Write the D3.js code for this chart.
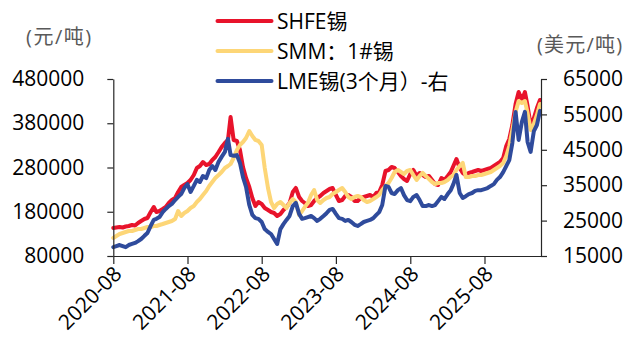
<!DOCTYPE html>
<html>
<head>
<meta charset="utf-8">
<script src="https://cdn.jsdelivr.net/npm/d3@7/dist/d3.min.js"></script>
<style>
  html, body { margin: 0; padding: 0; background: #fff; }
  svg { display: block; font-family: "Open Sans", "Noto Sans CJK SC", sans-serif; }
</style>
</head>
<body>
<svg id="chart" width="630" height="345"></svg>
<script>
// Semi-monthly observation dates
const dates = ("2020-08-01 2020-08-16 2020-09-01 2020-09-16 2020-10-01 2020-10-16 2020-11-01 2020-11-16 2020-12-01 2020-12-16 " +
  "2021-01-01 2021-01-16 2021-02-01 2021-02-16 2021-03-01 2021-03-16 2021-04-01 2021-04-16 2021-05-01 2021-05-16 2021-06-01 2021-06-16 " +
  "2021-07-01 2021-07-16 2021-08-01 2021-08-16 2021-09-01 2021-09-16 2021-10-01 2021-10-16 2021-11-01 2021-11-16 2021-12-01 2021-12-16 " +
  "2022-01-01 2022-01-16 2022-02-01 2022-02-16 2022-03-01 2022-03-16 2022-04-01 2022-04-16 2022-05-01 2022-05-16 2022-06-01 2022-06-16 " +
  "2022-07-01 2022-07-16 2022-08-01 2022-08-16 2022-09-01 2022-09-16 2022-10-01 2022-10-16 2022-11-01 2022-11-16 2022-12-01 2022-12-16 " +
  "2023-01-01 2023-01-16 2023-02-01 2023-02-16 2023-03-01 2023-03-16 2023-04-01 2023-04-16 2023-05-01 2023-05-16 2023-06-01 2023-06-16 " +
  "2023-07-01 2023-07-16 2023-08-01 2023-08-16 2023-09-01 2023-09-16 2023-10-01 2023-10-16 2023-11-01 2023-11-16 2023-12-01 2023-12-16 " +
  "2024-01-01 2024-01-16 2024-02-01 2024-02-16 2024-03-01 2024-03-16 2024-04-01 2024-04-16 2024-05-01 2024-05-16 2024-06-01 2024-06-16 " +
  "2024-07-01 2024-07-16 2024-08-01 2024-08-16 2024-09-01 2024-09-16 2024-10-01 2024-10-16 2024-11-01 2024-11-16 2024-12-01 2024-12-16 " +
  "2025-01-01 2025-01-16 2025-02-01 2025-02-16 2025-03-01 2025-03-16 2025-04-01 2025-04-16 2025-05-01 2025-05-16 2025-06-01 2025-06-16 " +
  "2025-07-01 2025-07-16 2025-08-01 2025-08-16 2025-09-01 2025-09-16 2025-10-01 2025-10-16 2025-11-01 2025-11-16 2025-12-01 2025-12-16 " +
  "2026-01-01 2026-01-16 2026-02-01 2026-02-16 2026-03-01 2026-03-16 2026-04-01 2026-04-16 2026-05-01").split(" ");

// SHFE tin, yuan/ton (left axis)
const shfe = [
  143300, 144400, 145500, 144400, 146700, 147800, 150100, 148900, 154600, 159100,
  163600, 165900, 179400, 190700, 179400, 181700, 186200, 190700, 199800, 206600, 211100, 224600,
  235900, 240500, 245000, 251800, 263100, 278900, 283400, 292400, 285700, 287900, 297000, 303700,
  315000, 326300, 335400, 342200, 394100, 342200, 339900, 319600, 281100, 256300, 235900, 211100,
  193000, 202000, 197500, 188500, 184000, 179400, 177200, 170400, 174900, 184000, 190700, 199800,
  224600, 233700, 213300, 204300, 199800, 193000, 195300, 204300, 211100, 215600, 222400, 226900,
  231400, 233700, 217900, 204300, 206600, 215600, 217900, 213300, 204300, 204300, 211100, 213300,
  215600, 217900, 213300, 222400, 224600, 240500, 272100, 274400, 281100, 278900, 269800, 260800,
  254000, 249500, 265300, 274400, 260800, 267600, 263100, 258500, 260800, 251800, 242700, 240500,
  256300, 251800, 260800, 269800, 283400, 299200, 278900, 267600, 263100, 267600, 269800, 272100,
  274400, 272100, 274400, 276600, 278900, 283400, 287900, 292400, 301500, 328600, 344400, 376100,
  423500, 450600, 432600, 450600, 419000, 376100, 391900, 414500, 432600
];

// SMM 1# tin, yuan/ton (left axis)
const smm = [
  120700, 125200, 129700, 132000, 134200, 136500, 136500, 138800, 141000, 141000,
  143300, 145500, 145500, 147800, 147800, 150100, 152300, 154600, 156800, 159100, 163600, 181700,
  170400, 177200, 181700, 188500, 193000, 202000, 208800, 217900, 226900, 238200, 247200, 256300,
  263100, 269800, 278900, 283400, 287900, 301500, 319600, 330900, 337600, 346700, 362500, 351200,
  342200, 339900, 330900, 278900, 233700, 202000, 188500, 197500, 202000, 195300, 188500, 199800,
  208800, 202000, 172700, 181700, 190700, 199800, 217900, 229200, 206600, 199800, 206600, 211100,
  213300, 220100, 224600, 229200, 233700, 224600, 213300, 208800, 213300, 215600, 213300, 206600,
  202000, 204300, 208800, 213300, 217900, 229200, 238200, 245000, 256300, 269800, 274400, 269800,
  265300, 272100, 274400, 263100, 251800, 260800, 267600, 260800, 254000, 247200, 242700, 245000,
  245000, 247200, 251800, 258500, 263100, 274400, 283400, 290200, 258500, 258500, 260800, 260800,
  263100, 263100, 265300, 267600, 269800, 274400, 278900, 283400, 290200, 306000, 328600, 364800,
  405400, 430300, 425800, 430300, 403200, 364800, 378300, 398700, 423500
];

// LME tin (3-month), USD/ton (right axis)
const lme = [
  17500, 17800, 18100, 17800, 17500, 18100, 18400, 18700, 19200, 19800,
  20700, 21500, 23500, 25200, 25500, 26000, 27400, 28300, 29100, 29700, 30800, 31700,
  32500, 34200, 35300, 33100, 34800, 36500, 35900, 37600, 37000, 39300, 40400, 39300,
  41600, 43000, 44400, 48100, 43500, 43300, 43500, 41300, 37300, 34500, 29400, 26600,
  25700, 25500, 24600, 22600, 21800, 21200, 19800, 18400, 22600, 24000, 25200, 26300,
  29100, 30000, 26900, 25500, 25700, 26000, 26300, 25700, 24900, 25500, 26300, 27100,
  28000, 28300, 26900, 25700, 25500, 24900, 25200, 24600, 23800, 23500, 24000, 24600,
  24900, 25200, 25700, 26600, 27400, 29400, 34800, 34500, 32800, 32500, 33600, 34200,
  32200, 30800, 30500, 31700, 32200, 30800, 29100, 29100, 29400, 29100, 29400, 30500,
  31700, 31100, 32500, 33600, 35300, 37900, 32800, 31400, 31900, 32500, 32800, 33400,
  33600, 33600, 33900, 34200, 34800, 35300, 36500, 37300, 38700, 40400, 42100, 46900,
  55700, 47800, 52900, 55700, 47200, 44400, 50300, 52000, 56000
];

// Axis ticks
const leftTicks = [80000, 180000, 280000, 380000, 480000];
const rightTicks = [15000, 25000, 35000, 45000, 55000, 65000];
const xTickDates = ["2020-08-01", "2021-08-01", "2022-08-01", "2023-08-01", "2024-08-01", "2025-08-01"];

// Series definitions (drawn in order, later on top)
const seriesNames = ["SHFE锡", "SMM：1#锡", "LME锡(3个月）-右"];
const seriesColors = ["#E8132B", "#FDD677", "#2F4B9C"];

const parse = d3.utcParse("%Y-%m-%d");
const dateObjs = dates.map(parse);

const svg = d3.select("#chart");
const plot = { left: 113.3, right: 541, top: 79, bottom: 256 };

const x = d3.scaleUtc()
  .domain([parse("2020-08-01"), parse("2026-05-06")])
  .range([plot.left, plot.right]);
const yL = d3.scaleLinear().domain([80000, 480000]).range([plot.bottom, plot.top]);
const yR = d3.scaleLinear().domain([15000, 65000]).range([plot.bottom, plot.top]);

// Lines
const series = [
  { values: shfe, scale: yL },
  { values: smm, scale: yL },
  { values: lme, scale: yR }
];
series.forEach((s, i) => {
  const line = d3.line()
    .x((d, j) => x(dateObjs[j]))
    .y(d => s.scale(d));
  svg.append("path")
    .datum(s.values)
    .attr("fill", "none")
    .attr("stroke", seriesColors[i])
    .attr("stroke-width", 4)
    .attr("stroke-linejoin", "round")
    .attr("stroke-linecap", "round")
    .attr("d", line);
});

const axisColor = "#262626";
const fontSize = 21;

// Left axis
const gL = svg.append("g")
  .attr("transform", `translate(${plot.left},0)`)
  .call(d3.axisLeft(yL).tickValues(leftTicks).tickSize(6).tickSizeOuter(0).tickPadding(23)
    .tickFormat(d3.format("d")));

// Right axis
const gR = svg.append("g")
  .attr("transform", `translate(${plot.right},0)`)
  .call(d3.axisRight(yR).tickValues(rightTicks).tickSize(6).tickSizeOuter(0).tickPadding(16)
    .tickFormat(d3.format("d")));

// Bottom axis
const gX = svg.append("g")
  .attr("transform", `translate(0,${plot.bottom})`)
  .call(d3.axisBottom(x).tickValues(xTickDates.map(parse)).tickSize(8).tickSizeOuter(0)
    .tickFormat(d3.utcFormat("%Y-%m")));

[gL, gR, gX].forEach(g => {
  g.select(".domain").attr("stroke", axisColor).attr("stroke-width", 1.2);
  g.selectAll(".tick line").attr("stroke", axisColor).attr("stroke-width", 1.2);
  g.selectAll("text").attr("fill", "#000").attr("font-size", fontSize)
    .attr("font-family", "'Open Sans', 'Noto Sans CJK SC', sans-serif");
});

gX.selectAll(".tick text")
  .attr("text-anchor", "end")
  .attr("dy", "0.35em")
  .attr("transform", "translate(4,14) rotate(-45)")
  .attr("y", 0).attr("x", 0);

// Unit labels
svg.append("text").attr("x", 26).attr("y", 44)
  .attr("font-size", 20).attr("fill", "#595959").attr("letter-spacing", 1.5)
  .text("(元/吨)");
svg.append("text").attr("x", 537).attr("y", 52)
  .attr("font-size", 20).attr("fill", "#595959").attr("letter-spacing", 1.2)
  .text("(美元/吨)");

// Legend
const legendY = [21, 51, 81];
seriesNames.forEach((name, i) => {
  svg.append("line")
    .attr("x1", 217.5).attr("x2", 271.5)
    .attr("y1", legendY[i]).attr("y2", legendY[i])
    .attr("stroke", seriesColors[i]).attr("stroke-width", 4).attr("stroke-linecap", "round");
  svg.append("text")
    .attr("x", 277).attr("y", legendY[i]).attr("dy", "0.36em")
    .attr("font-size", fontSize).attr("fill", "#000").text(name);
});
</script>
</body>
</html>
